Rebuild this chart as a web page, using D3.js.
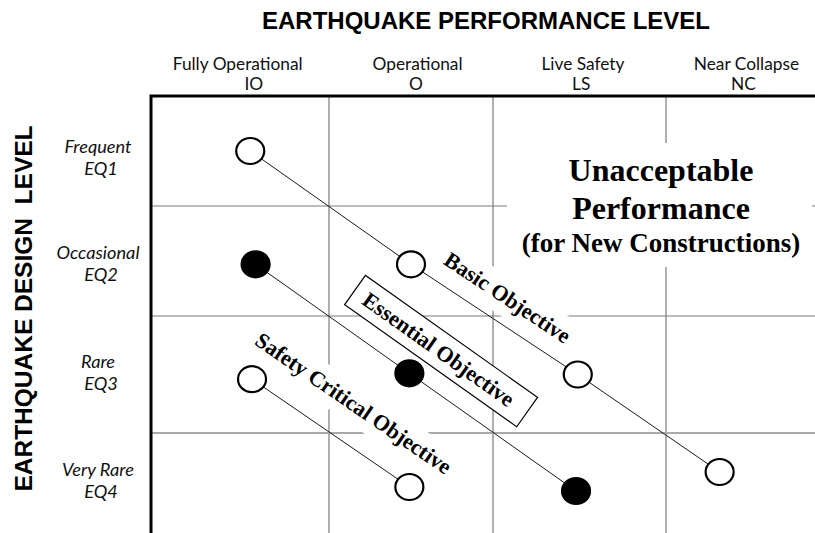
<!DOCTYPE html>
<html><head><meta charset="utf-8">
<script src="https://cdn.jsdelivr.net/npm/d3@7"></script>
<style>
html,body{margin:0;padding:0;background:#fff;}
svg{display:block;}
</style></head><body>
<svg id="chart" width="815" height="533"></svg>
<script>
// ---------------- data ----------------
const perfLevels   = ["Fully Operational", "Operational", "Live Safety", "Near Collapse"];
const perfCodes    = ["IO", "O", "LS", "NC"];
const perfNamePos  = [0.49, 1.54, 2.52, 3.54];   // label centre, in performance-level units
const perfCodePos  = [0.58, 1.53, 2.51, 3.52];

const designLevels   = ["Frequent", "Occasional", "Rare", "Very Rare"];
const designCodes    = ["EQ1", "EQ2", "EQ3", "EQ4"];
const designLabelPos = [0.62, 1.58, 2.54, 3.54]; // label centre, in design-level units

const objectives = ["Basic Objective", "Essential Objective", "Safety Critical Objective"];
const basicX     = [0.56, 1.50, 2.49, 3.36];
const basicY     = [0.50, 1.53, 2.50, 3.39];
const essentialX = [0.59, 1.49, 2.48];
const essentialY = [1.53, 2.49, 3.58];
const safetyX    = [0.57, 1.49];
const safetyY    = [2.54, 3.54];

const gridTicks = [1, 2, 3];

const mainTitle = "EARTHQUAKE PERFORMANCE LEVEL";
const sideTitle = "EARTHQUAKE DESIGN  LEVEL";
const zoneText  = ["Unacceptable", "Performance", "(for New Constructions)"];

// ---------------- scales ----------------
const svg = d3.select("#chart");
const x = d3.scaleLinear().domain([0, 1, 2, 3, 4]).range([150, 329, 493, 666, 815]);
const y = d3.scaleLinear().domain([0, 1, 2, 3, 4]).range([96, 206, 316, 433, 533]);

const SANS  = "'Liberation Sans', Arial, sans-serif";
const SERIF = "'Liberation Serif', 'Times New Roman', serif";
const HUM   = "Lato, 'Open Sans', sans-serif";

// ---------------- grid ----------------
const grid = svg.append("g");
grid.selectAll("line.gv").data(gridTicks).join("line").attr("class", "gv")
  .attr("x1", d => x(d)).attr("x2", d => x(d))
  .attr("y1", y(0)).attr("y2", y(4))
  .attr("stroke", "#7a7a7a").attr("stroke-width", 1.2);
grid.selectAll("line.gh").data(gridTicks).join("line").attr("class", "gh")
  .attr("x1", x(0)).attr("x2", x(4))
  .attr("y1", d => y(d)).attr("y2", d => y(d))
  .attr("stroke", d => d === 3 ? "#a9a9a9" : "#7a7a7a")
  .attr("stroke-width", d => d === 3 ? 2 : 1.2);

// white backing of the "unacceptable" zone text
svg.append("rect").attr("x", 507).attr("y", 143).attr("width", 305).attr("height", 124)
  .attr("fill", "#fff");

// ---------------- series ----------------
const series = [
  { name: objectives[0], xs: basicX,     ys: basicY,     fill: "#fff" },
  { name: objectives[1], xs: essentialX, ys: essentialY, fill: "#000" },
  { name: objectives[2], xs: safetyX,    ys: safetyY,    fill: "#fff" }
].map(s => ({ ...s, pts: s.xs.map((v, i) => [x(v), y(s.ys[i])]) }));

function seg(pts, i) {
  const a = pts[i], b = pts[i + 1];
  const dx = b[0] - a[0], dy = b[1] - a[1], L = Math.hypot(dx, dy);
  return { ax: a[0], ay: a[1], mx: (a[0] + b[0]) / 2, my: (a[1] + b[1]) / 2,
           ux: dx / L, uy: dy / L, angle: Math.atan2(dy, dx) * 180 / Math.PI };
}
function place(g, along, up, ox, oy) {
  // point at (ox,oy) moved 'along' the segment and 'up' perpendicular to it
  return [ox + g.ux * along + g.uy * up, oy + g.uy * along - g.ux * up];
}

const labelLayer = svg.append("g");
const lineLayer  = svg.append("g");
const dotLayer   = svg.append("g");
const textLayer  = svg.append("g");

// Basic & Safety labels with white band behind them
[[series[0], 1, -1, 18], [series[2], 0, 2, 30]].forEach(([s, si, along, up]) => {
  const g = seg(s.pts, si);
  const [cx, cy] = place(g, along, up, g.mx, g.my);
  const t = textLayer.append("text")
    .attr("transform", `translate(${cx},${cy}) rotate(${g.angle})`)
    .attr("text-anchor", "middle")
    .attr("font-family", SERIF).attr("font-weight", "bold").attr("font-size", 22)
    .attr("fill", "#000").text(s.name);
  const len = t.node().getComputedTextLength();
  labelLayer.append("rect")
    .attr("transform", `translate(${cx},${cy}) rotate(${g.angle})`)
    .attr("x", -len / 2 - 8).attr("y", -7 - 18.5).attr("width", len + 16).attr("height", 37)
    .attr("fill", "#fff");
});

// Essential label in a box
{
  const s = series[1];
  const g = seg(s.pts, 0);
  const [cx, cy] = place(g, 13, 36.5, s.pts[1][0], s.pts[1][1]);
  const box = labelLayer.append("g").attr("transform", `translate(${cx},${cy}) rotate(${g.angle})`);
  box.append("rect").attr("x", -105.5).attr("y", -18).attr("width", 211).attr("height", 36)
    .attr("fill", "#fff").attr("stroke", "#000").attr("stroke-width", 1.2);
  box.append("text").attr("x", -3).attr("y", 7.5).attr("text-anchor", "middle")
    .attr("font-family", SERIF).attr("font-weight", "bold").attr("font-size", 22)
    .text(s.name);
}

// connecting lines
const lineGen = d3.line();
lineLayer.selectAll("path").data(series).join("path")
  .attr("d", s => lineGen(s.pts))
  .attr("fill", "none").attr("stroke", "#1a1a1a").attr("stroke-width", 1);

// markers
dotLayer.selectAll("g").data(series).join("g")
  .selectAll("ellipse").data(s => s.pts.map(p => ({ p, fill: s.fill }))).join("ellipse")
  .attr("cx", d => d.p[0]).attr("cy", d => d.p[1])
  .attr("rx", 14).attr("ry", 13)
  .attr("fill", d => d.fill).attr("stroke", "#000").attr("stroke-width", 2.2);

// ---------------- frame ----------------
svg.append("path")
  .attr("d", `M${x(0) + 1},${y(4)} V${y(0)} H${x(4)}`)
  .attr("fill", "none").attr("stroke", "#000").attr("stroke-width", 3);

// ---------------- titles ----------------
svg.append("text").attr("x", 486).attr("y", 29).attr("text-anchor", "middle")
  .attr("font-family", SANS).attr("font-weight", "bold").attr("font-size", 24)
  .text(mainTitle);

svg.append("text").attr("transform", "translate(32,308.5) rotate(-90)")
  .attr("text-anchor", "middle").style("white-space", "pre")
  .attr("font-family", SANS).attr("font-weight", "bold").attr("font-size", 24.5)
  .text(sideTitle);

// ---------------- column labels ----------------
function fitSize(family, style, sample, target, base) {
  const t = svg.append("text").attr("font-family", family).attr("font-style", style)
    .attr("font-size", base).text(sample);
  const w = t.node().getComputedTextLength();
  t.remove();
  return base * target / w;
}
const headSize = fitSize(HUM, "normal", perfLevels[0], 130, 18);
const head = svg.append("g").attr("font-family", HUM).attr("font-size", headSize)
  .attr("text-anchor", "middle").attr("fill", "#111");
head.selectAll("text.n").data(perfLevels).join("text").attr("class", "n")
  .attr("x", (d, i) => x(perfNamePos[i])).attr("y", 70).text(d => d);
head.selectAll("text.c").data(perfCodes).join("text").attr("class", "c")
  .attr("x", (d, i) => x(perfCodePos[i])).attr("y", 90).text(d => d);

// ---------------- row labels ----------------
const rowSize = fitSize(HUM, "italic", designLevels[1], 83, 18);
const rows = svg.append("g").attr("font-family", HUM).attr("font-style", "italic")
  .attr("font-size", rowSize).attr("text-anchor", "middle").attr("fill", "#111");
rows.selectAll("text.n").data(designLevels).join("text").attr("class", "n")
  .attr("x", 98).attr("y", (d, i) => y(designLabelPos[i]) - 11).text(d => d);
rows.selectAll("text.c").data(designCodes).join("text").attr("class", "c")
  .attr("x", 101).attr("y", (d, i) => y(designLabelPos[i]) + 11).text(d => d);

// ---------------- unacceptable zone text ----------------
const zone = svg.append("g").attr("font-family", SERIF).attr("font-weight", "bold")
  .attr("text-anchor", "middle").attr("fill", "#000");
const zoneSizes = [32, 32, 27], zoneBase = [181, 219, 252];
zone.selectAll("text").data(zoneText).join("text")
  .attr("x", 661).attr("y", (d, i) => zoneBase[i]).attr("font-size", (d, i) => zoneSizes[i])
  .text(d => d);
</script>
</body></html>
